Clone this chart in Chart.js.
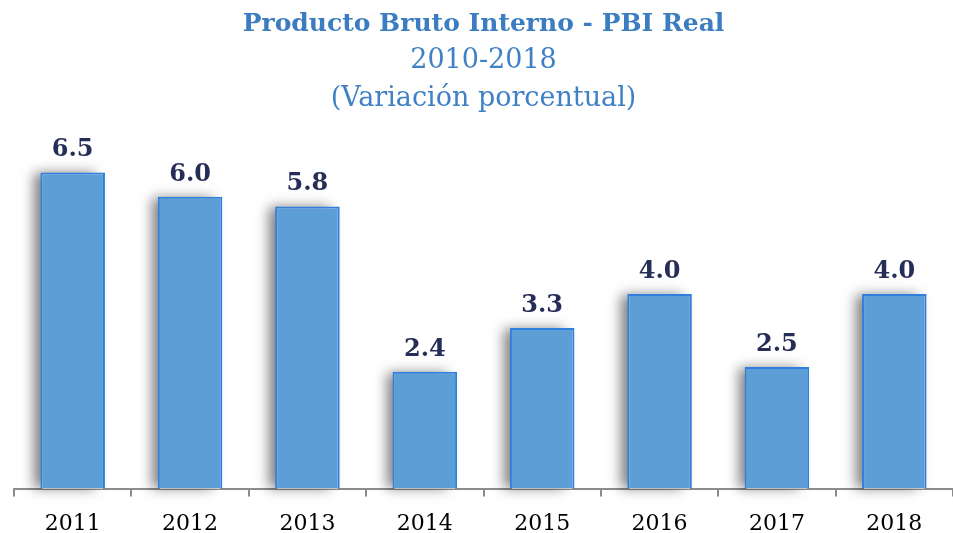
<!DOCTYPE html>
<html>
<head>
<meta charset="utf-8">
<script src="https://cdn.jsdelivr.net/npm/chart.js@4"></script>
<style>
  html, body { margin: 0; padding: 0; background: #fff; }
  #wrap { width: 953px; height: 533px; }
</style>
</head>
<body>
<div id="wrap"><canvas id="pbiChart"></canvas></div>
<script>
const years = ['2011', '2012', '2013', '2014', '2015', '2016', '2017', '2018'];
const variacion = [6.5, 6.0, 5.8, 2.4, 3.3, 4.0, 2.5, 4.0];
const titleText = 'Producto Bruto Interno - PBI Real';
const subtitleLines = ['2010-2018', '(Variación porcentual)'];

const serif = "'DejaVu Serif', 'Liberation Serif', serif";

// sombra a la izquierda de las barras (solo el relleno)
const barShadow = {
    id: 'barShadow',
    beforeDatasetsDraw(chart) {
        const c = chart.ctx;
        const meta = chart.getDatasetMeta(0);
        c.save();
        c.shadowColor = 'rgba(0, 0, 0, 0.5)';
        c.shadowBlur = 12;
        c.shadowOffsetX = -8;
        c.shadowOffsetY = -1;
        c.fillStyle = '#ffffff';
        meta.data.forEach(bar => {
            const w = bar.width;
            c.fillRect(bar.x - w / 2 + 2, bar.y + 2, w - 4, bar.base - bar.y - 2);
        });
        c.restore();
    }
};

// etiquetas de valor encima de cada barra
const valueLabels = {
    id: 'valueLabels',
    afterDatasetsDraw(chart) {
        const c = chart.ctx;
        const meta = chart.getDatasetMeta(0);
        c.save();
        c.font = 'bold 24px ' + serif;
        c.fillStyle = '#262D57';
        c.textAlign = 'center';
        c.textBaseline = 'alphabetic';
        meta.data.forEach((bar, i) => {
            c.fillText(variacion[i].toFixed(1), bar.x, bar.y - 16);
        });
        c.restore();
    }
};

new Chart(document.getElementById('pbiChart'), {
    type: 'bar',
    data: {
        labels: years,
        datasets: [{
            data: variacion,
            backgroundColor: '#5E9ED6',
            borderColor: '#2F80DC',
            borderWidth: 2,
            borderSkipped: 'bottom',
            categoryPercentage: 0.55,
            barPercentage: 1.0
        }]
    },
    options: {
        responsive: true,
        maintainAspectRatio: false,
        animation: false,
        layout: {
            padding: { left: 14, right: 0, top: 0, bottom: -18 }
        },
        scales: {
            x: {
                offset: true,
                grid: {
                    offset: true,
                    drawOnChartArea: false,
                    drawTicks: true,
                    tickLength: 8,
                    color: '#8C8C8C',
                    lineWidth: 2
                },
                border: { display: true, color: '#8C8C8C', width: 2 },
                ticks: {
                    color: '#000',
                    padding: 14,
                    font: { family: serif, size: 22 }
                }
            },
            y: {
                display: false,
                min: 0,
                max: 7.41
            }
        },
        plugins: {
            legend: { display: false },
            tooltip: { enabled: false },
            title: {
                display: true,
                text: titleText,
                color: '#3B7DC0',
                font: { family: serif, size: 25, weight: 'bold' },
                padding: { top: 9, bottom: 3 }
            },
            subtitle: {
                display: true,
                text: subtitleLines,
                color: '#3F81C4',
                font: { family: serif, size: 27, lineHeight: 1.41 },
                padding: { top: 0, bottom: 10 }
            }
        }
    },
    plugins: [barShadow, valueLabels]
});
</script>
</body>
</html>
